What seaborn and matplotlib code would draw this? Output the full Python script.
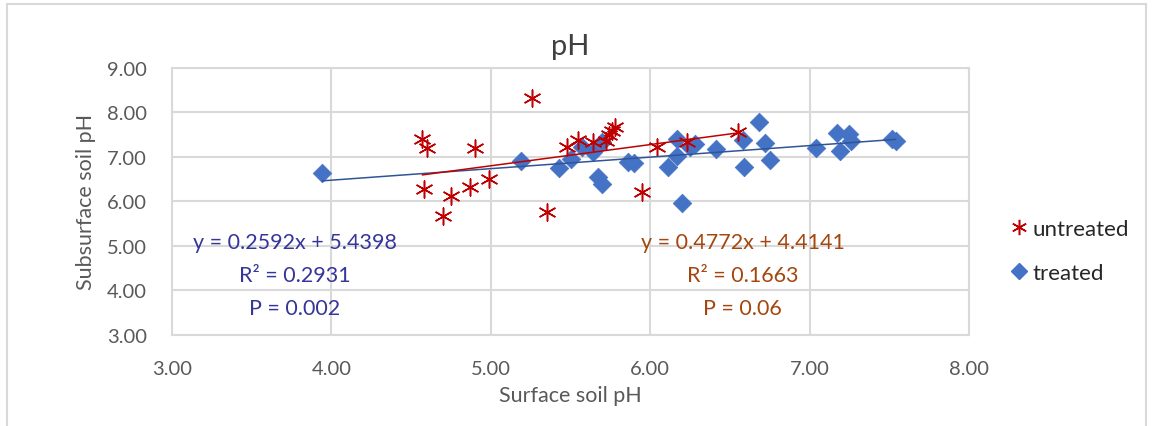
import matplotlib
matplotlib.use('Agg')
import matplotlib.pyplot as plt
import numpy as np
import pandas as pd
import seaborn as sns
from matplotlib.lines import Line2D
from matplotlib.patches import Rectangle

# Valores
untreated_x = [4.57, 4.60, 4.58, 4.70, 4.75, 4.87, 4.90, 4.99, 5.26, 5.35, 5.48,
               5.55, 5.64, 5.72, 5.74, 5.76, 5.78, 5.95, 6.04, 6.23, 6.55]
untreated_y = [7.40, 7.20, 6.28, 5.66, 6.11, 6.32, 7.19, 6.50, 8.32, 5.75, 7.22,
               7.38, 7.33, 7.36, 7.50, 7.58, 7.67, 6.20, 7.22, 7.33, 7.55]

treated_x = [3.94, 5.19, 5.43, 5.50, 5.57, 5.64, 5.70, 5.67, 5.70, 5.86, 5.90,
             6.11, 6.17, 6.17, 6.20, 6.25, 6.28, 6.41, 6.58, 6.59, 6.68, 6.72,
             6.75, 7.04, 7.17, 7.25, 7.19, 7.26, 7.52, 7.54]
treated_y = [6.63, 6.91, 6.74, 6.95, 7.22, 7.10, 7.33, 6.54, 6.39, 6.88, 6.86,
             6.78, 7.40, 7.03, 5.96, 7.22, 7.29, 7.18, 7.38, 6.78, 7.78, 7.31,
             6.94, 7.20, 7.54, 7.52, 7.14, 7.36, 7.40, 7.35]

# Linhas de tendência (equações do Excel)
untreated_fit = (0.4772, 4.4141)
treated_fit = (0.2592, 5.4398)
untreated_text = ['y = 0.4772x + 4.4141', 'R² = 0.1663', 'P = 0.06']
treated_text = ['y = 0.2592x + 5.4398', 'R² = 0.2931', 'P = 0.002']

red = '#C00000'
blue = '#4472C4'
grid_c = '#D9D9D9'
tick_c = '#595959'

sns.set_style('white')
plt.rcParams['font.family'] = ['Lato', 'DejaVu Sans']

untreated = pd.DataFrame({'x': untreated_x, 'y': untreated_y})
treated = pd.DataFrame({'x': treated_x, 'y': treated_y})

fig = plt.figure(figsize=(11.53, 4.27), dpi=100)
ax = fig.add_axes([0.1492, 0.2138, 0.6912, 0.6246])

# Pontos
sns.scatterplot(data=treated, x='x', y='y', ax=ax, marker='D', s=90,
                color=blue, edgecolor=blue, linewidth=0.5, zorder=3)
sns.scatterplot(data=untreated, x='x', y='y', ax=ax, marker=(6, 2, 0), s=150,
                color=red, linewidth=1.1, zorder=4)

# Tendências
for df, (a, b), c in [(treated, treated_fit, '#2F5597'),
                      (untreated, untreated_fit, red)]:
    xs = np.array([df['x'].min(), df['x'].max()])
    sns.lineplot(x=xs, y=a * xs + b, ax=ax, color=c, linewidth=1.1, zorder=5)

ax.set_xlim(3, 8)
ax.set_ylim(3, 9)
ax.set_xticks(np.arange(3, 8.01, 1))
ax.set_yticks(np.arange(3, 9.01, 1))
ax.xaxis.set_major_formatter(matplotlib.ticker.FormatStrFormatter('%.2f'))
ax.yaxis.set_major_formatter(matplotlib.ticker.FormatStrFormatter('%.2f'))
ax.grid(True, color=grid_c, linewidth=1.5)
ax.set_axisbelow(True)
for sp in ax.spines.values():
    sp.set_color(grid_c)
    sp.set_linewidth(1.5)
ax.tick_params(axis='x', length=0, labelsize=14.5, colors=tick_c, pad=18)
ax.tick_params(axis='y', length=0, labelsize=14.5, colors=tick_c, pad=18)

ax.set_xlabel('Surface soil pH', fontsize=15.5, color=tick_c, labelpad=6)
ax.set_ylabel('Subsurface soil pH', fontsize=15.5, color=tick_c, labelpad=8)
ax.set_title('pH', fontsize=21, color='#404040', pad=10)

# Textos das equações
for i, t in enumerate(treated_text):
    ax.text(3.77, 5.08 - i * 0.74, t, fontsize=15.5, color='#35359A',
            ha='center', va='center')
for i, t in enumerate(untreated_text):
    ax.text(6.58, 5.08 - i * 0.74, t, fontsize=15.5, color='#A5460E',
            ha='center', va='center')

handles = [Line2D([], [], linestyle='none', marker=(6, 2, 0), markersize=11,
                  markeredgecolor=red, markeredgewidth=1.1, color=red),
           Line2D([], [], linestyle='none', marker='D', markersize=8,
                  color=blue)]
fig.legend(handles, ['untreated', 'treated'], loc='center left',
           bbox_to_anchor=(0.856, 0.41), frameon=False, fontsize=16,
           handletextpad=0.05, labelspacing=1.05, handlelength=1.1)

fig.patches.append(Rectangle((0.006, -0.01), 0.988, 0.998, transform=fig.transFigure,
                             fill=False, edgecolor=grid_c, linewidth=1.5))

fig.savefig('out.png', dpi=100)
